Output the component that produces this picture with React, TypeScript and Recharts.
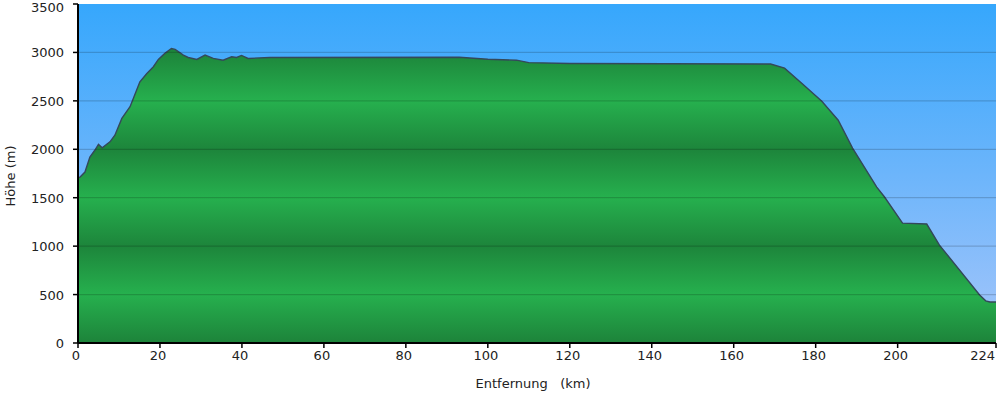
import React from "react";
import {
  AreaChart,
  Area,
  XAxis,
  YAxis,
  CartesianGrid,
  ReferenceLine,
} from "recharts";

const distanceKm = [
  0, 0.5, 1.7, 2.9, 4.1, 5, 5.9, 7.8, 9, 10.7, 12.7, 13.5, 15.1, 16.8, 18.4,
  19.6, 21.2, 22.8, 23.7, 25.7, 26.9, 29, 31, 33, 35.4, 37.5, 38.7, 39.9, 41.5,
  46.8, 93, 100, 107, 110, 120, 169, 172.4, 176.8, 181.5, 185.5, 189, 194.9,
  196.8, 201.2, 207.1, 210.2, 220, 221.5, 222.5, 224,
];

const elevationM = [
  1710, 1713, 1765, 1920, 1990, 2050, 2015, 2077, 2146, 2319, 2439, 2525, 2697,
  2783, 2852, 2928, 2990, 3041, 3031, 2972, 2948, 2928, 2972, 2938, 2920, 2955,
  2948, 2969, 2938, 2948, 2950, 2930, 2920, 2895, 2885, 2880, 2838, 2675, 2495,
  2300, 2012, 1610, 1507, 1238, 1228, 1011, 495, 435, 423, 423,
];

const xTicks = [0, 20, 40, 60, 80, 100, 120, 140, 160, 180, 200, 224];
const yTicks = [0, 500, 1000, 1500, 2000, 2500, 3000, 3500];

const profile = distanceKm.map((km, i) => ({ km, h: elevationM[i] }));

const font = "'DejaVu Sans', Verdana, sans-serif";

// bottom ticks: last label is pulled in so it stays inside the frame
const XTick = (props: any) => {
  const { x, y, payload } = props;
  const last = payload.value === xTicks[xTicks.length - 1];
  return (
    <text
      x={last ? x - 1 : x - 2}
      y={y + 10}
      textAnchor={last ? "end" : "middle"}
      fill="#222"
      fontSize={13}
      fontFamily={font}
    >
      {payload.value}
    </text>
  );
};

const YTick = (props: any) => {
  const { x, y, payload } = props;
  const top = payload.value === yTicks[yTicks.length - 1];
  return (
    <text
      x={x}
      y={top ? y + 8 : y + 5}
      textAnchor="end"
      fill="#222"
      fontSize={13}
      fontFamily={font}
    >
      {payload.value}
    </text>
  );
};

export default function App() {
  return (
    <div
      style={{
        position: "absolute",
        left: 0,
        top: 0,
        width: 1000,
        height: 394,
        background: "#fff",
      }}
    >
      <AreaChart
        width={1000}
        height={394}
        data={profile}
        margin={{ top: 4, right: 4, left: 0, bottom: 0 }}
      >
        <defs>
          <linearGradient id="sky" x1="0" y1="0" x2="0" y2="1">
            <stop offset="0%" stopColor="#36a7fc" />
            <stop offset="50%" stopColor="#6cb5fb" />
            <stop offset="100%" stopColor="#a6c6fa" />
          </linearGradient>
          <linearGradient
            id="ground"
            gradientUnits="userSpaceOnUse"
            x1="0"
            y1="4"
            x2="0"
            y2="343"
          >
            <stop offset="0%" stopColor="#25ab4b" />
            <stop offset="14.3%" stopColor="#1d853b" />
            <stop offset="28.6%" stopColor="#26b04e" />
            <stop offset="42.9%" stopColor="#1d853b" />
            <stop offset="57.1%" stopColor="#26b04e" />
            <stop offset="71.4%" stopColor="#1d853b" />
            <stop offset="85.7%" stopColor="#26b04e" />
            <stop offset="100%" stopColor="#1d833a" />
          </linearGradient>
        </defs>
        <CartesianGrid
          fill="url(#sky)"
          fillOpacity={1}
          horizontal={false}
          vertical={false}
          stroke="none"
        />
        <XAxis
          dataKey="km"
          type="number"
          domain={[0, 224]}
          ticks={xTicks}
          interval={0}
          height={51}
          tick={<XTick />}
          tickSize={5}
          axisLine={{ stroke: "#000", strokeWidth: 2 }}
          tickLine={{ stroke: "#000", strokeWidth: 1.5 }}
        />
        <YAxis
          type="number"
          domain={[0, 3500]}
          ticks={yTicks}
          interval={0}
          width={78}
          tick={<YTick />}
          tickSize={5}
          tickMargin={9}
          axisLine={{ stroke: "#000", strokeWidth: 2 }}
          tickLine={{ stroke: "#000", strokeWidth: 1.5 }}
        />
        <Area
          type="linear"
          dataKey="h"
          stroke="#34485a"
          strokeWidth={1.4}
          fill="url(#ground)"
          fillOpacity={1}
          isAnimationActive={false}
          dot={false}
          activeDot={false}
        />
        {yTicks
          .filter((v) => v > 0 && v < 3500)
          .map((v) => (
            <ReferenceLine
              key={v}
              y={v}
              stroke="rgba(0,0,0,0.17)"
              strokeWidth={1.2}
            />
          ))}
      </AreaChart>
      <div
        style={{
          position: "absolute",
          left: 10,
          top: 176,
          transform: "translate(-50%, -50%) rotate(-90deg)",
          fontFamily: font,
          fontSize: 13,
          color: "#222",
          whiteSpace: "nowrap",
        }}
      >
        Höhe (m)
      </div>
      <div
        style={{
          position: "absolute",
          left: 533,
          top: 383,
          transform: "translate(-50%, -50%)",
          fontFamily: font,
          fontSize: 13,
          color: "#222",
          whiteSpace: "pre",
        }}
      >
        {"Entfernung   (km)"}
      </div>
    </div>
  );
}
